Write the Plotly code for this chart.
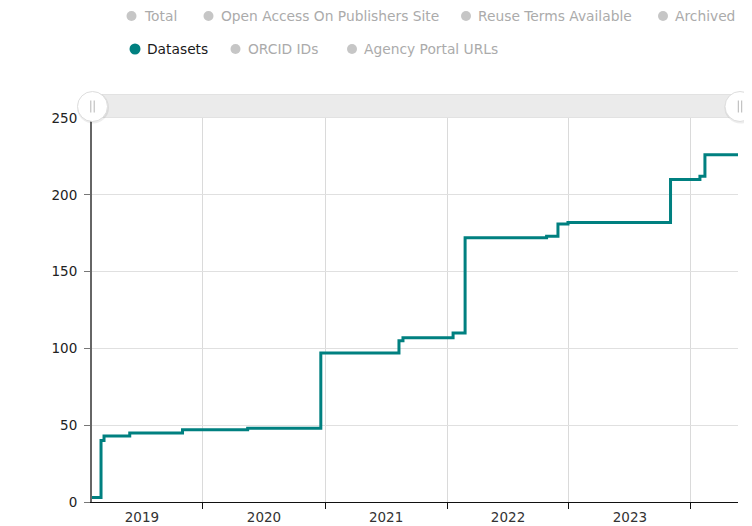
import plotly.graph_objects as go

# ---- data ----
dates = ["2019-02-03", "2019-03-02", "2019-03-11", "2019-05-27", "2019-11-01",
         "2020-05-14", "2020-12-19", "2021-08-10", "2021-08-22", "2022-01-19",
         "2022-02-24", "2022-10-26", "2022-11-29", "2022-12-29", "2023-11-01",
         "2024-01-28", "2024-02-12", "2024-05-21"]
datasets = [3, 40, 43, 45, 47, 48, 97, 105, 107, 110, 172, 173, 181, 182, 210,
            212, 226, 226]

legend_names = ["Total", "Open Access On Publishers Site", "Reuse Terms Available",
                "Archived", "Datasets", "ORCID IDs", "Agency Portal URLs"]
legend_visible = [False, False, False, False, True, False, False]

x_range = ["2019-02-03", "2024-05-21"]
y_ticks = [0, 50, 100, 150, 200, 250]

# ---- layout geometry (page pixels; the page body has an 8px margin) ----
OFF = 8
W, H = 752 - OFF, 526 - OFF
L, R, T, B = 92 - OFF, 738 - OFF, 118 - OFF, 502 - OFF
def px(x):
    return (x - OFF - L) / (R - L)
def py(y):
    return (B - (y - OFF)) / (B - T)

TEAL = "#008080"
FONT = "DejaVu Sans"

fig = go.Figure()
fig.add_trace(go.Scatter(x=dates, y=datasets, mode="lines", line_shape="hv",
                         line=dict(color=TEAL, width=3), name="Datasets",
                         showlegend=False, hoverinfo="x+y"))

shapes = []
annotations = []

# scrollbar at top
shapes.append(dict(type="rect", xref="paper", yref="paper",
                   x0=px(92), x1=px(741), y0=py(117.5), y1=py(94.5),
                   fillcolor="#ebebeb", line=dict(color="#e2e2e2", width=1), layer="above"))
for cx in (92.5, 740):
    cy = 106.5
    r = 15
    shapes.append(dict(type="circle", xref="paper", yref="paper",
                       x0=px(cx - r - 0.5), x1=px(cx + r + 1.5), y0=py(cy + r + 2), y1=py(cy - r),
                       fillcolor="rgba(0,0,0,0.07)", line=dict(width=0), layer="above"))
    shapes.append(dict(type="circle", xref="paper", yref="paper",
                       x0=px(cx - r), x1=px(cx + r), y0=py(cy + r), y1=py(cy - r),
                       fillcolor="white", line=dict(color="#dedede", width=1), layer="above"))
    for gx in (cx - 1.7, cx + 1.7):
        shapes.append(dict(type="line", xref="paper", yref="paper",
                           x0=px(gx), x1=px(gx), y0=py(cy + 6), y1=py(cy - 6),
                           line=dict(color="#b5b5b5", width=1), layer="above"))

# legend (manual)
legend_pos = [(131.5, 16), (208.5, 16), (466, 16), (663, 16),
              (135, 49), (235.5, 49), (352, 49)]
for name, vis, (ix, iy) in zip(legend_names, legend_visible, legend_pos):
    rr = 5.5 if vis else 5
    col = TEAL if vis else "#c6c6c6"
    shapes.append(dict(type="circle", xref="paper", yref="paper",
                       x0=px(ix - rr), x1=px(ix + rr), y0=py(iy + rr), y1=py(iy - rr),
                       fillcolor=col, line=dict(width=0), layer="above"))
    annotations.append(dict(text=name, xref="paper", yref="paper",
                            x=px(ix + 10), y=py(iy), xanchor="left", yanchor="middle",
                            showarrow=False,
                            font=dict(family=FONT, size=13.8,
                                      color="#1a1a1a" if vis else "#ababab")))

fig.update_layout(
    width=W, height=H,
    margin=dict(l=L, r=W - R, t=T, b=H - B, pad=0, autoexpand=False),
    plot_bgcolor="white", paper_bgcolor="white",
    showlegend=False,
    shapes=shapes, annotations=annotations,
    font=dict(family=FONT, size=13, color="#222"),
    xaxis=dict(type="date", range=x_range, dtick="M12", tick0="2019-01-01",
               tickformat="%Y", ticklabelmode="period", automargin=False,
               showgrid=True, gridcolor="#dadada", gridwidth=1,
               showline=True, linecolor="#111", linewidth=1,
               ticks="outside", ticklen=6, tickcolor="#111",
               ticklabelstandoff=-3,
               tickfont=dict(family=FONT, size=13.5, color="#333"),
               zeroline=False, fixedrange=True),
    yaxis=dict(range=[0, 250], tickvals=y_ticks, automargin=False,
               showgrid=True, gridcolor="#e0e0e0", gridwidth=1,
               showline=True, linecolor="#666", linewidth=2,
               ticks="outside", ticklen=6, tickcolor="#777",
               ticklabelstandoff=4,
               tickfont=dict(family=FONT, size=13.5, color="#222"),
               zeroline=False, fixedrange=True),
)

fig.write_html("out.html")
